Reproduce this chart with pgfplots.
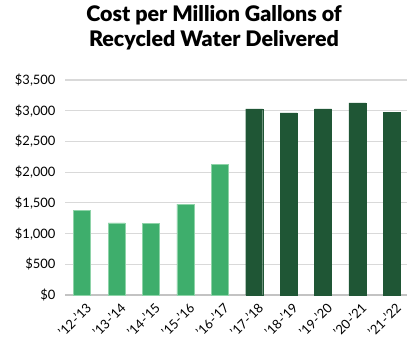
\documentclass[border=0pt]{standalone}
\usepackage{pgfplots}
\pgfplotsset{compat=1.18}
\usepackage{fontspec}
\setmainfont{Lato}
\newfontfamily\titlefont{Lato Black}
\definecolor{lightg}{HTML}{3EAE6C}
\definecolor{lightedge}{HTML}{8ED3A8}
\definecolor{darkg}{HTML}{1F5635}
\definecolor{gridg}{HTML}{D9D9D9}
\begin{document}
\begin{tikzpicture}
\useasboundingbox (0,0) rectangle (407bp,346bp);
\node[font=\titlefont\fontsize{21.5}{25}\selectfont, align=center, anchor=center] at (214bp,318bp) {Cost per Million Gallons of\\Recycled Water Delivered};
\begin{axis}[
  at={(65bp,51bp)}, anchor=south west,
  scale only axis, width=342bp, height=215bp,
  ybar, bar width=17bp, bar shift=0pt,
  xmin=-0.5, xmax=9.44, ymin=0, ymax=3500,
  ytick={0,500,...,3500},
  yticklabel={\$\pgfmathprintnumber[assume math mode=true]{\tick}},
  /pgf/number format/assume math mode=true,
  /pgf/number format/1000 sep={,},
  xtick={0,...,9},
  xticklabels={’12-’13,’13-’14,’14-’15,’15-’16,’16-’17,’17-’18,’18-’19,’19-’20,’20-’21,’21-’22},
  xticklabel style={xshift=3bp, yshift=-7bp, rotate=45, anchor=north east, font=\fontsize{13}{15}\selectfont, inner sep=0pt},
  y tick label style={font=\fontsize{13}{15}\selectfont},
  ymajorgrids, grid style={gridg, line width=1.2pt},
  axis line style={draw=none},
  major tick length=0pt,
  tick style={draw=none},
  clip=false,
  yticklabel style={xshift=-6bp},
  extra y ticks={0}, extra y tick labels={}, extra y tick style={grid style={gridg!90!black, line width=1.5pt}},
]
\addplot[fill=lightg, draw=lightedge, line width=0.6pt] coordinates {(0,1375) (1,1175) (2,1167) (3,1481) (4,2127)};
\addplot[fill=darkg, draw=darkg] coordinates {(5,3028) (6,2963) (7,3028) (8,3126) (9,2979)};
\end{axis}
\end{tikzpicture}
\end{document}
